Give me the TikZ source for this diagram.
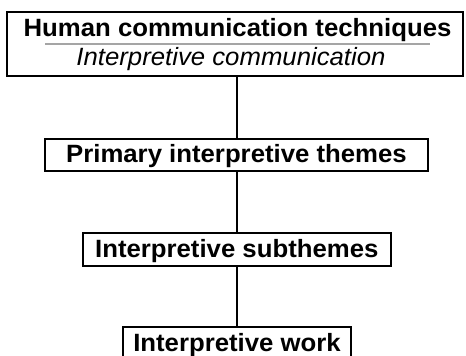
\documentclass[tikz,border=0pt]{standalone}
\usepackage{fontspec}
\setmainfont{Liberation Sans}[FakeStretch=1.03]
\begin{document}
\begin{tikzpicture}[x=1pt,y=-1pt,
  boxline/.style={draw=black, line width=2pt},
  lvl/.style={boxline, rectangle, inner sep=0pt, outer sep=0pt,
    font=\fontsize{25}{30}\selectfont\bfseries, text height=24pt, text depth=8.3pt},
  conn/.style={draw=black, line width=2pt}]
\path[use as bounding box] (0,0) rectangle (466,356);
\clip (0,0) rectangle (466,356);
\fill[white] (0,0) rectangle (466,356);
% top box
\node[boxline, rectangle, inner sep=0pt, outer sep=0pt, minimum width=456pt, minimum height=64pt] (top) at (235,44) {};
\node[anchor=base, inner sep=0pt, font=\fontsize{25}{30}\selectfont\bfseries] (toptitle) at (237.5,36.7) {Human communication techniques};
\node[anchor=base, inner sep=0pt, font=\fontsize{25}{30}\selectfont\itshape] (topsub) at (231,65.7) {Interpretive communication};
\draw[draw={rgb,255:red,165;green,165;blue,165}, line width=2pt] (45,44.3) -- (430,44.3);
% level boxes
\node[lvl, minimum width=383.5pt, anchor=base] (prim) at (236.5,162.7) {Primary interpretive themes};
\node[lvl, minimum width=308.3pt, anchor=base] (sub) at (236.8,257.3) {Interpretive subthemes};
\node[lvl, minimum width=228pt, anchor=base] (work) at (237,351) {Interpretive work};
% connectors
\draw[conn] (top.south -| 237,0) -- (prim.north -| 237,0);
\draw[conn] (prim.south -| 237,0) -- (sub.north -| 237,0);
\draw[conn] (sub.south -| 237,0) -- (work.north -| 237,0);
\end{tikzpicture}
\end{document}
